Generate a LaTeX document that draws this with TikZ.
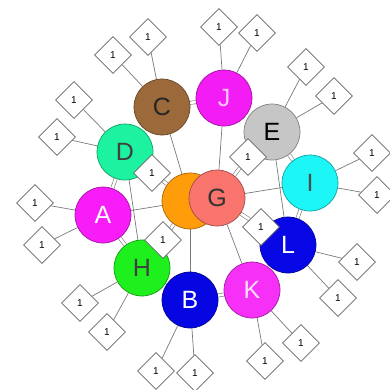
\documentclass[tikz,border=0pt]{standalone}
\usepackage{fontspec}
\setmainfont{Liberation Sans}
\usetikzlibrary{shapes.geometric,backgrounds}
\definecolor{cA}{HTML}{F81CF8}
\definecolor{cB}{HTML}{0606E2}
\definecolor{cC}{HTML}{9C6A3A}
\definecolor{cD}{HTML}{1CF2A0}
\definecolor{cE}{HTML}{C6C6C6}
\definecolor{cF}{HTML}{FF9C0A}
\definecolor{cG}{HTML}{F8746C}
\definecolor{cH}{HTML}{1EF01E}
\definecolor{cI}{HTML}{1CF6F6}
\definecolor{cJ}{HTML}{F41CF4}
\definecolor{cK}{HTML}{F630F6}
\definecolor{cL}{HTML}{0808E6}
\definecolor{edgec}{HTML}{7A7A7A}
\tikzset{
  vtx/.style={circle, minimum size=56pt, inner sep=0pt, fill=#1, draw=#1!65!black, line width=0.7pt,
    font=\fontsize{25}{25}\selectfont},
  leaf/.style={diamond, aspect=1, minimum width=37pt, minimum height=37pt, inner sep=0pt,
    fill=white, draw=black!60, line width=0.7pt, font=\fontsize{10}{10}\selectfont},
  edge/.style={draw=edgec, line width=0.7pt},
  dbl/.style={draw=edgec, line width=0.6pt, double=white, double distance=2.6pt},
}
\begin{document}
\begin{tikzpicture}[x=1pt,y=-1pt]
\useasboundingbox (0,0) rectangle (390,389);
% main nodes
\node[vtx=cF] (F) at (190,201) {};
\node[vtx=cG, text=black!80] (G) at (217,198) {G};
\node[vtx=cA, text=white] (A) at (103,215) {A};
\node[vtx=cB, text=white] (B) at (190,300) {B};
\node[vtx=cC, text=black!85] (C) at (162,107) {C};
\node[vtx=cD, text=black!75] (D) at (125,152) {D};
\node[vtx=cJ, text=cJ!25] (J) at (224,98) {J};
\node[vtx=cE, text=black] (E) at (272,132) {E};
\node[vtx=cI, text=black!70] (I) at (310,183) {I};
\node[vtx=cH, text=black!75] (H) at (142,268) {H};
\node[vtx=cL, text=white] (L) at (288,245) {L};
\node[vtx=cK, text=cK!15] (K) at (252,290) {K};
% bridge diamonds
\node[leaf] (dDF) at (152,173) {1};
\node[leaf] (dEG) at (248,157) {1};
\node[leaf] (dGL) at (261,227) {1};
\node[leaf] (dHF) at (163,240) {1};
% leaves
\node[leaf] (c1) at (148,37) {1};
\node[leaf] (c2) at (113,55) {1};
\node[leaf] (d1) at (74,100) {1};
\node[leaf] (d2) at (57,137) {1};
\node[leaf] (j1) at (219,27) {1};
\node[leaf] (j2) at (257,33) {1};
\node[leaf] (e1) at (306,67) {1};
\node[leaf] (e2) at (334,96) {1};
\node[leaf] (i1) at (372,153) {1};
\node[leaf] (i2) at (377,195) {1};
\node[leaf] (l1) at (357,262) {1};
\node[leaf] (l2) at (338,298) {1};
\node[leaf] (k1) at (301,343) {1};
\node[leaf] (k2) at (265,361) {1};
\node[leaf] (b1) at (156,371) {1};
\node[leaf] (b2) at (195,373) {1};
\node[leaf] (h1) at (80,303) {1};
\node[leaf] (h2) at (107,332) {1};
\node[leaf] (a1) at (35,203) {1};
\node[leaf] (a2) at (42,245) {1};
\begin{scope}[on background layer]
\fill[white] (0,0) rectangle (390,389);
% leaf edges
\draw[edge] (C) -- (c1); \draw[edge] (C) -- (c2);
\draw[edge] (D) -- (d1); \draw[edge] (D) -- (d2);
\draw[edge] (J) -- (j1); \draw[edge] (J) -- (j2);
\draw[edge] (E) -- (e1); \draw[edge] (E) -- (e2);
\draw[edge] (I) -- (i1); \draw[edge] (I) -- (i2);
\draw[edge] (L) -- (l1); \draw[edge] (L) -- (l2);
\draw[edge] (K) -- (k1); \draw[edge] (K) -- (k2);
\draw[edge] (B) -- (b1); \draw[edge] (B) -- (b2);
\draw[edge] (H) -- (h1); \draw[edge] (H) -- (h2);
\draw[edge] (A) -- (a1); \draw[edge] (A) -- (a2);
% bridge edges
\draw[dbl] (D) -- (dDF); \draw[dbl] (dDF) -- (F);
\draw[dbl] (E) -- (dEG); \draw[dbl] (dEG) -- (G);
\draw[dbl] (G) -- (dGL); \draw[dbl] (dGL) -- (L);
\draw[dbl] (H) -- (dHF); \draw[dbl] (dHF) -- (F);
% node edges
\draw[edge] (C) -- (F);
\draw[edge] (J) -- (G);
\draw[edge] (G) -- (I);
\draw[edge] (E) -- (L);
\draw[edge] (G) -- (K);
\draw[edge] (F) -- (B);
\draw[edge] (A) -- (F);
\draw[edge] (D) -- (H);
\draw[edge] (H) -- (B);
\draw[dbl] (C) -- (J);
\draw[dbl] (E) -- (I);
\draw[dbl] (I) -- (L);
\draw[dbl] (B) -- (K);
\draw[dbl] (A) -- (H);
\draw[dbl] (D) -- (A);
\end{scope}
\end{tikzpicture}
\end{document}
